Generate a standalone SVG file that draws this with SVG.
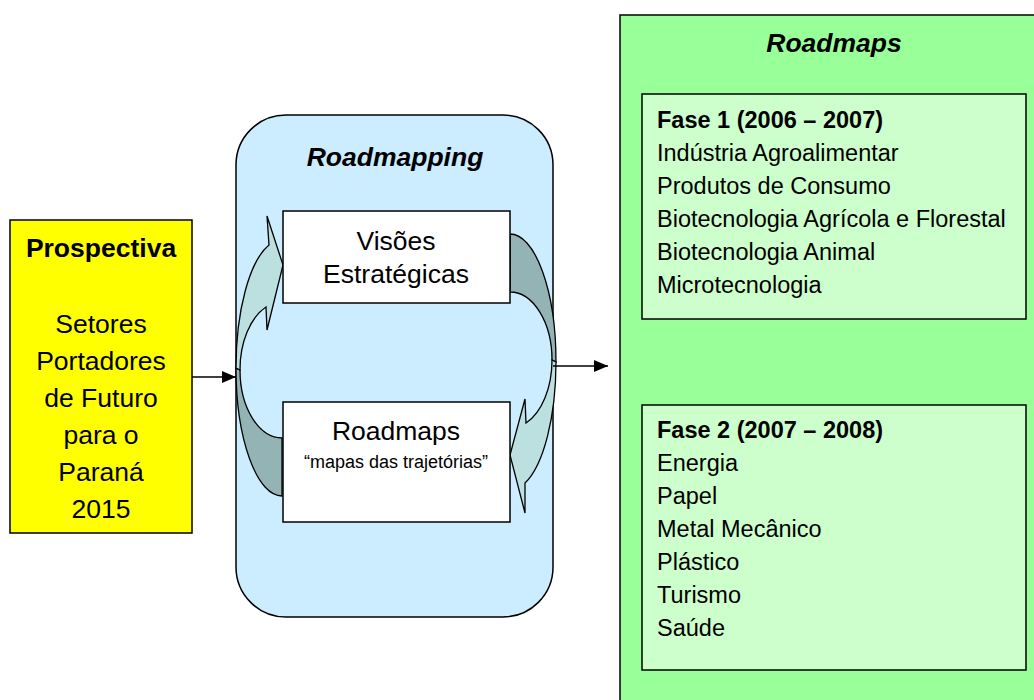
<svg xmlns="http://www.w3.org/2000/svg" width="1034" height="700" viewBox="0 0 1034 700">
<style>
.t{font-family:"Liberation Sans",Arial,sans-serif;fill:#000}
.b{font-weight:bold}
.bi{font-weight:bold;font-style:italic}
.box{stroke:#000;stroke-width:1.5}
.lt{fill:#BCDFDF;stroke:#000;stroke-width:1.3}
.dk{fill:#94B3B5;stroke:#000;stroke-width:1.3}
.con{stroke:#000;stroke-width:1.3;fill:none}
</style>
<defs>
<marker id="ah" markerWidth="14" markerHeight="12" refX="14" refY="6" orient="auto" markerUnits="userSpaceOnUse">
<path d="M0,0 L14,6 L0,12 Z" fill="#000"/>
</marker>
</defs>
<rect width="1034" height="700" fill="#fff"/>

<g id="prospectiva">
<rect class="box" x="10" y="220" width="182" height="313" fill="#FFFF00"/>
<text class="t b" x="101" y="257" font-size="26.5" text-anchor="middle">Prospectiva</text>
<g class="t" font-size="26.5" text-anchor="middle">
<text x="101" y="333">Setores</text>
<text x="101" y="370">Portadores</text>
<text x="101" y="407">de Futuro</text>
<text x="101" y="444">para o</text>
<text x="101" y="481">Paraná</text>
<text x="101" y="518">2015</text>
</g>
</g>

<g id="roadmapping">
<rect class="box" x="236" y="115" width="317" height="502" rx="50" ry="50" fill="#CCECFF"/>
<text class="t bi" x="395" y="166" font-size="26.5" text-anchor="middle">Roadmapping</text>
</g>

<g id="loop-arrows">
<path class="dk" d="M282,438 A42,68 0 0 1 240,370 L236,368 A46,128 0 0 0 282,496 Z"/>
<path class="lt" d="M269,245 L267,216 L283,265 L267,330 L266,307 A42,68 0 0 0 240,370 L236,368 A46,128 0 0 1 269,245 Z"/>
<path class="dk" d="M510,234 A46,128 0 0 1 556,362 L552,360 A42,68 0 0 0 510,292 Z"/>
<path class="lt" d="M552,360 A42,68 0 0 1 526,423 L525,399 L510,455 L525,513 L525,483 A46,128 0 0 0 556,362 Z"/>
</g>

<g id="visoes">
<rect class="box" x="283" y="211" width="227" height="92" fill="#fff"/>
<text class="t" x="396" y="250" font-size="26.5" text-anchor="middle">Visões</text>
<text class="t" x="396" y="283" font-size="26.5" text-anchor="middle">Estratégicas</text>
</g>

<g id="roadmaps-box">
<rect class="box" x="283" y="402" width="227" height="120" fill="#fff"/>
<text class="t" x="396" y="440" font-size="26.5" text-anchor="middle">Roadmaps</text>
<text class="t" x="396" y="468" font-size="18" text-anchor="middle">“mapas das trajetórias”</text>
</g>

<g id="roadmaps-panel">
<rect class="box" x="620" y="15" width="430" height="700" fill="#99FF99"/>
<text class="t bi" x="834" y="52" font-size="26.5" text-anchor="middle">Roadmaps</text>
</g>

<g id="fase1">
<rect class="box" x="642" y="94" width="384" height="225" fill="#CCFFCC"/>
<g class="t" font-size="23.5">
<text class="b" x="657" y="128">Fase 1 (2006 – 2007)</text>
<text x="657" y="161">Indústria Agroalimentar</text>
<text x="657" y="194">Produtos de Consumo</text>
<text x="657" y="227">Biotecnologia Agrícola e Florestal</text>
<text x="657" y="260">Biotecnologia Animal</text>
<text x="657" y="293">Microtecnologia</text>
</g>
</g>

<g id="fase2">
<rect class="box" x="642" y="405" width="384" height="265" fill="#CCFFCC"/>
<g class="t" font-size="23.5">
<text class="b" x="657" y="438">Fase 2 (2007 – 2008)</text>
<text x="657" y="471">Energia</text>
<text x="657" y="504">Papel</text>
<text x="657" y="537">Metal Mecânico</text>
<text x="657" y="570">Plástico</text>
<text x="657" y="603">Turismo</text>
<text x="657" y="636">Saúde</text>
</g>
</g>

<g id="connectors">
<line class="con" x1="192" y1="377" x2="236" y2="377" marker-end="url(#ah)"/>
<line class="con" x1="553" y1="366" x2="608" y2="366" marker-end="url(#ah)"/>
</g>
</svg>
